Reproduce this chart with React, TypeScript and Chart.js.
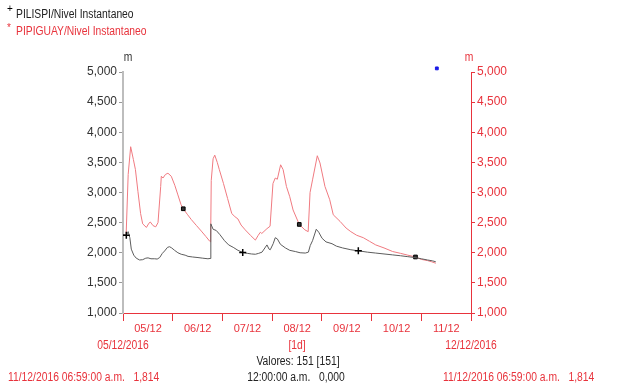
import React, { useEffect, useRef } from "react";
import { Chart, registerables } from "chart.js";

Chart.register(...registerables);

// Day labels (x axis, each centered on its day)
const dayLabels = ["05/12", "06/12", "07/12", "08/12", "09/12", "10/12", "11/12"];

// PILISPI / Nivel Instantaneo (hours since 05/12/2016 00:00, value in m)
const pilispiHours = [0, 1.6, 2.5, 3.3, 4.0, 5.2, 6.4, 8.0, 9.5, 11.0, 12.1, 13.5, 15.3, 16.5, 17.7, 19.0, 20.1, 21.5, 22.5, 23.5, 24.9, 26.5, 28.1, 30, 31.4, 33.5, 36.2, 38.5, 41.0, 42.0, 42.4, 43.5, 45, 46.8, 49, 51, 53.2, 55.5, 57.8, 60, 62, 63.9, 65.5, 67.1, 68.5, 69.5, 70.5, 71.1, 72.5, 73.5, 74.5, 76, 78.4, 80.5, 83.2, 85.5, 88, 89.5, 90.4, 91.5, 93.3, 94.5, 96.1, 98, 100.9, 103, 106, 110, 113.6, 118, 122, 126, 130, 134, 137.5, 141, 144, 147, 149.5, 151];
const pilispiValues = [2300, 2290, 2350, 2250, 2060, 1960, 1910, 1880, 1885, 1910, 1915, 1900, 1900, 1895, 1920, 1990, 2030, 2090, 2100, 2080, 2040, 2000, 1975, 1960, 1940, 1930, 1920, 1910, 1900, 1905, 2480, 2390, 2370, 2300, 2200, 2130, 2090, 2040, 2005, 1990, 1980, 1975, 1990, 2010, 2080, 2130, 2060, 2050, 2150, 2250, 2230, 2140, 2080, 2040, 2020, 2000, 1995, 2010, 2120, 2200, 2390, 2340, 2240, 2180, 2150, 2110, 2080, 2050, 2032, 2010, 1995, 1980, 1965, 1950, 1935, 1920, 1900, 1880, 1865, 1850];
const pilispiMarkerHours = [1.6, 57.8, 113.6];

// PIPIGUAY / Nivel Instantaneo
const pipiguayHours = [0, 1.5, 2.5, 3.7, 5.0, 6.0, 7.2, 8.5, 9.5, 11.3, 12.5, 13.2, 14.5, 15.8, 16.9, 18.2, 18.5, 19.3, 20.5, 21.7, 23.3, 25.0, 26.5, 28.0, 29.1, 31.0, 33.0, 35.5, 37.8, 40.0, 41.9, 42.3, 42.6, 43.5, 44.3, 45.5, 46.5, 48.5, 50.5, 52.5, 54, 55.5, 57, 59, 61.5, 63.9, 65.3, 66.3, 67, 69.5, 71.0, 72.4, 73.5, 74.5, 76.1, 77.3, 78.9, 80.5, 82.1, 85.1, 87.8, 89.4, 90.3, 91.5, 93.8, 95.1, 97.5, 99.8, 101.5, 104.8, 107.7, 110, 112.8, 116, 119, 122, 126, 130.2, 134, 137.5, 141.2, 144, 147, 149, 151];
const pipiguayValues = [2300, 2280, 3300, 3760, 3550, 3380, 3020, 2650, 2480, 2420, 2490, 2510, 2450, 2430, 2500, 3100, 3270, 3240, 3300, 3320, 3270, 3120, 2960, 2800, 2730, 2640, 2550, 2450, 2360, 2270, 2190, 2180, 3200, 3560, 3620, 3500, 3380, 3150, 2900, 2650, 2600, 2560, 2460, 2380, 2290, 2210, 2290, 2340, 2320, 2400, 2440, 3150, 3240, 3220, 3460, 3380, 3100, 2930, 2710, 2470, 2380, 2350, 3000, 3210, 3610, 3490, 3100, 2880, 2630, 2520, 2410, 2350, 2290, 2250, 2190, 2130, 2080, 2020, 1990, 1960, 1930, 1890, 1870, 1850, 1826];
const pipiguayMarkerHours = [29.1, 85.1, 141.2];

// cursor point (blue)
const cursorHours = [151.5];
const cursorValues = [5060];

const RED = "#e8333c";
const FONT = "'Liberation Sans', Arial, sans-serif";
const SQUEEZE = 0.86;

function Txt(props: { x: number; y: number; color?: string; align?: "left" | "center"; children: any; size?: number; squeeze?: number }) {
  const { x, y, color = "#222", align = "left", children, size = 12, squeeze = SQUEEZE } = props;
  return (
    <div
      style={{
        position: "absolute",
        left: x,
        top: y,
        transform:
          align === "center"
            ? `translate(-50%,-50%) scaleX(${squeeze})`
            : `translate(0,-50%) scaleX(${squeeze})`,
        transformOrigin: align === "center" ? "center center" : "left center",
        color,
        font: `${size}px ${FONT}`,
        whiteSpace: "pre",
        lineHeight: 1,
      }}
    >
      {children}
    </div>
  );
}

export default function App() {
  const ref = useRef<HTMLCanvasElement | null>(null);

  useEffect(() => {
    if (!ref.current) return;
    const yFont = { size: 12, family: FONT };
    const xFont = { size: 11, family: FONT };
    const chart = new Chart(ref.current, {
      type: "line",
      data: {
        datasets: [
          {
            label: "PILISPI/Nivel Instantaneo",
            data: pilispiHours.map((h, i) => ({ x: h, y: pilispiValues[i] })),
            borderColor: "#5c5c5c",
            borderWidth: 1,
            tension: 0,
            yAxisID: "y",
            pointStyle: "cross",
            pointRadius: (ctx: any) => (pilispiMarkerHours.includes(ctx.raw?.x) ? 3.5 : 0),
            pointBorderColor: "#000",
            pointBorderWidth: 1.5,
            pointHoverRadius: 0,
          } as any,
          {
            label: "PIPIGUAY/Nivel Instantaneo",
            data: pipiguayHours.map((h, i) => ({ x: h, y: pipiguayValues[i] })),
            borderColor: "#f07a80",
            borderWidth: 1,
            tension: 0,
            yAxisID: "y2",
            pointStyle: "rect",
            pointRadius: (ctx: any) => (pipiguayMarkerHours.includes(ctx.raw?.x) ? 2.6 : 0),
            pointBackgroundColor: "#333",
            pointBorderColor: "#000",
            pointBorderWidth: 1,
            pointHoverRadius: 0,
          } as any,
          {
            type: "scatter",
            label: "cursor",
            data: cursorHours.map((h, i) => ({ x: h, y: cursorValues[i] })),
            yAxisID: "y",
            pointStyle: "rect",
            pointRadius: 2,
            backgroundColor: "#1a1ae6",
            borderColor: "#1a1ae6",
            clip: false,
          } as any,
        ],
      },
      options: {
        animation: false,
        responsive: false,
        maintainAspectRatio: false,
        layout: { padding: { top: 72, left: 0, right: 0, bottom: 0 } },
        plugins: { legend: { display: false }, tooltip: { enabled: false } },
        scales: {
          x: {
            type: "linear",
            min: 0,
            max: 168,
            position: "bottom",
            grid: { display: true, drawOnChartArea: false, drawTicks: true, tickLength: 8, color: RED },
            border: { display: true, color: RED, width: 1 },
            ticks: {
              stepSize: 24,
              autoSkip: false,
              maxRotation: 0,
              labelOffset: 25,
              padding: 1,
              color: RED,
              font: xFont,
              callback: (v: any) => dayLabels[Math.round(Number(v) / 24)] ?? "",
            },
            afterFit: (s: any) => {
              s.height = 78;
            },
          },
          y: {
            position: "left",
            min: 1000,
            max: 5000,
            grid: { display: true, drawOnChartArea: false, tickLength: 4, color: "#999" },
            border: { display: true, color: "#bdbdbd", width: 2 },
            ticks: {
              stepSize: 500,
              color: "#333",
              padding: 2,
              font: yFont,
              callback: (v: any) => Number(v).toLocaleString("en-US"),
            },
            afterFit: (s: any) => {
              s.width = 123;
            },
          },
          y2: {
            position: "right",
            min: 1000,
            max: 5000,
            grid: { display: true, drawOnChartArea: false, tickLength: 4, color: RED },
            border: { display: true, color: RED, width: 1 },
            ticks: {
              stepSize: 500,
              color: RED,
              padding: 2,
              font: yFont,
              callback: (v: any) => Number(v).toLocaleString("en-US"),
            },
            afterFit: (s: any) => {
              s.width = 158;
            },
          },
        },
      } as any,
    });
    return () => chart.destroy();
  }, []);

  return (
    <div style={{ position: "fixed", left: 0, top: 0, width: 629, height: 391, background: "#fff", overflow: "hidden" }}>
      <canvas ref={ref} width={629} height={391} style={{ position: "absolute", left: 0, top: 0, width: 629, height: 391 }} />
      <Txt x={7} y={9} color="#000" size={10} squeeze={1}>+</Txt>
      <Txt x={16} y={14}>PILISPI/Nivel Instantaneo</Txt>
      <Txt x={7} y={28} color={RED} size={10} squeeze={1}>*</Txt>
      <Txt x={16} y={31} color={RED}>PIPIGUAY/Nivel Instantaneo</Txt>
      <Txt x={128} y={57} align="center" color="#333">m</Txt>
      <Txt x={469} y={57} align="center" color={RED}>m</Txt>
      <Txt x={123} y={345} align="center" color={RED}>05/12/2016</Txt>
      <Txt x={297} y={345} align="center" color={RED}>[1d]</Txt>
      <Txt x={471} y={345} align="center" color={RED}>12/12/2016</Txt>
      <Txt x={298} y={361} align="center" color="#222">Valores: 151 [151]</Txt>
      <Txt x={8} y={377} color={RED}>{"11/12/2016 06:59:00 a.m.   1,814"}</Txt>
      <Txt x={296} y={377} align="center" color="#222">{"12:00:00 a.m.   0,000"}</Txt>
      <Txt x={443} y={377} color={RED}>{"11/12/2016 06:59:00 a.m.   1,814"}</Txt>
    </div>
  );
}
